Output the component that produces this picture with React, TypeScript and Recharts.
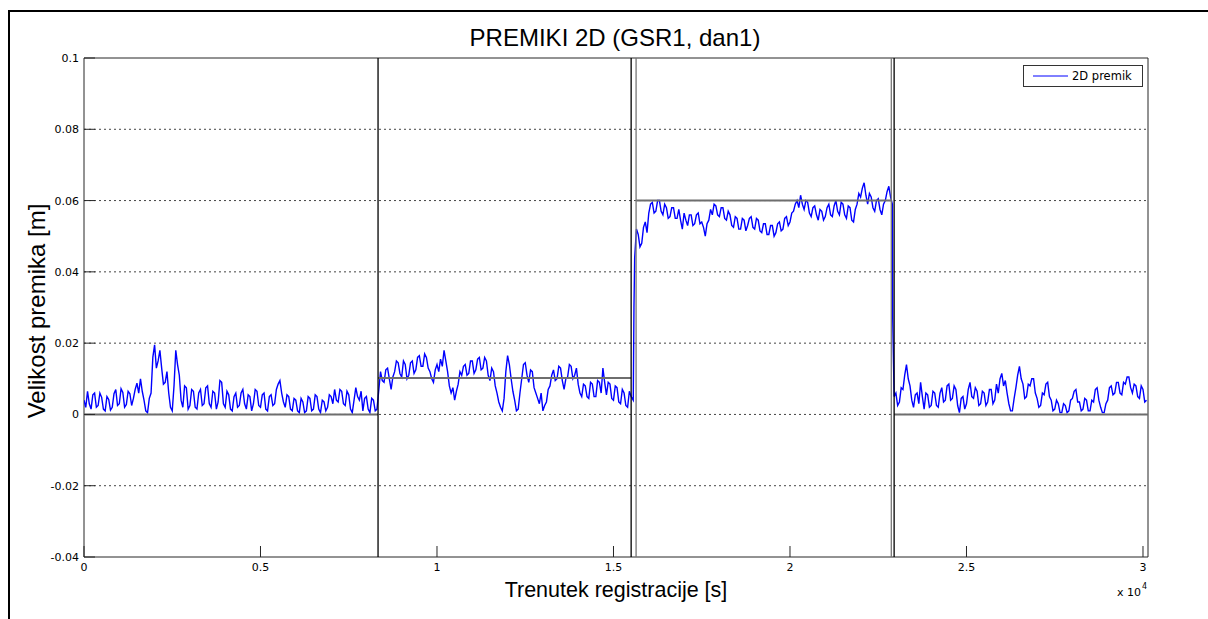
import React from 'react';
import { LineChart, Line, XAxis, YAxis, CartesianGrid, ReferenceLine, ReferenceArea } from 'recharts';

// vzorčenje [s]
const STEP = 50;

// 1. del meritve (0 - 8300 s)
const seg1Start = 0;
const seg1 = [
  0.0040, 0.0020, 0.0065, 0.0030, 0.0015, 0.0055, 0.0060, 0.0020, 0.0025, 0.0060,
  0.0048, 0.0015, 0.0010, 0.0050, 0.0042, 0.0012, 0.0020, 0.0058, 0.0070, 0.0025,
  0.0030, 0.0072, 0.0062, 0.0020, 0.0028, 0.0065, 0.0058, 0.0025, 0.0045, 0.0070,
  0.0088, 0.0060, 0.0100, 0.0065, 0.0040, 0.0010, 0.0005, 0.0045, 0.0060, 0.0160,
  0.0195, 0.0130, 0.0150, 0.0180, 0.0130, 0.0085, 0.0090, 0.0120, 0.0060, 0.0020,
  0.0010, 0.0080, 0.0180, 0.0140, 0.0110, 0.0040, 0.0020, 0.0080, 0.0075, 0.0015,
  0.0025, 0.0070, 0.0065, 0.0020, 0.0015, 0.0060, 0.0070, 0.0025, 0.0030, 0.0075,
  0.0080, 0.0030, 0.0020, 0.0065, 0.0060, 0.0015, 0.0035, 0.0095, 0.0090, 0.0030,
  0.0020, 0.0065, 0.0055, 0.0015, 0.0010, 0.0050, 0.0060, 0.0020, 0.0025, 0.0060,
  0.0070, 0.0030, 0.0015, 0.0055, 0.0050, 0.0010, 0.0030, 0.0070, 0.0065, 0.0025,
  0.0020, 0.0055, 0.0060, 0.0015, 0.0010, 0.0050, 0.0055, 0.0025, 0.0030, 0.0070,
  0.0085, 0.0095, 0.0060, 0.0035, 0.0020, 0.0055, 0.0050, 0.0015, 0.0010, 0.0045,
  0.0040, 0.0010, 0.0005, 0.0045, 0.0035, 0.0005, 0.0010, 0.0050, 0.0045, 0.0010,
  0.0015, 0.0055, 0.0050, 0.0015, 0.0005, 0.0040, 0.0035, 0.0010, 0.0020, 0.0055,
  0.0050, 0.0030, 0.0070, 0.0040, 0.0035, 0.0070, 0.0065, 0.0030, 0.0025, 0.0065,
  0.0055, 0.0015, 0.0005, 0.0040, 0.0075, 0.0050, 0.0040, 0.0065, 0.0010, 0.0045,
  0.0050, 0.0015, 0.0005, 0.0045, 0.0040, 0.0010, 0.0015,
];

// 2. del (8400 - 15500 s)
const seg2Start = 8400;
const seg2 = [
  0.0120, 0.0095, 0.0090, 0.0125, 0.0130, 0.0100, 0.0070, 0.0105, 0.0120, 0.0150,
  0.0145, 0.0115, 0.0105, 0.0150, 0.0140, 0.0100, 0.0110, 0.0145, 0.0150, 0.0115,
  0.0125, 0.0160, 0.0165, 0.0135, 0.0135, 0.0170, 0.0160, 0.0130, 0.0120, 0.0100,
  0.0090, 0.0125, 0.0140, 0.0120, 0.0155, 0.0135, 0.0180, 0.0150, 0.0120, 0.0080,
  0.0060, 0.0075, 0.0040, 0.0065, 0.0085, 0.0120, 0.0110, 0.0135, 0.0140, 0.0110,
  0.0115, 0.0150, 0.0150, 0.0115, 0.0125, 0.0155, 0.0160, 0.0125, 0.0130, 0.0160,
  0.0150, 0.0110, 0.0095, 0.0130, 0.0120, 0.0080, 0.0060, 0.0035, 0.0020, 0.0010,
  0.0045, 0.0120, 0.0165, 0.0140, 0.0100, 0.0065, 0.0040, 0.0010, 0.0015, 0.0060,
  0.0100, 0.0140, 0.0145, 0.0110, 0.0090, 0.0125, 0.0120, 0.0075, 0.0060, 0.0045,
  0.0030, 0.0060, 0.0010, 0.0025, 0.0035, 0.0070, 0.0080, 0.0110, 0.0125, 0.0095,
  0.0100, 0.0135, 0.0130, 0.0095, 0.0070, 0.0100, 0.0105, 0.0140, 0.0135, 0.0100,
  0.0110, 0.0130, 0.0085, 0.0060, 0.0050, 0.0085, 0.0080, 0.0050, 0.0045, 0.0090,
  0.0085, 0.0050, 0.0050, 0.0095, 0.0090, 0.0060, 0.0130, 0.0090, 0.0055, 0.0090,
  0.0085, 0.0045, 0.0040, 0.0080, 0.0075, 0.0035, 0.0030, 0.0070, 0.0060, 0.0025,
  0.0020, 0.0065, 0.0050,
];

// 3. del (15600 - 22900 s)
const seg3Start = 15600;
const seg3 = [
  0.0440, 0.0520, 0.0505, 0.0470, 0.0480, 0.0525, 0.0540, 0.0510, 0.0565, 0.0590,
  0.0595, 0.0565, 0.0570, 0.0600, 0.0600, 0.0570, 0.0560, 0.0590, 0.0580, 0.0550,
  0.0555, 0.0580, 0.0580, 0.0550, 0.0550, 0.0575, 0.0545, 0.0520, 0.0565, 0.0545,
  0.0530, 0.0560, 0.0560, 0.0530, 0.0535, 0.0560, 0.0565, 0.0535, 0.0540, 0.0525,
  0.0500, 0.0535, 0.0545, 0.0575, 0.0560, 0.0590, 0.0585, 0.0560, 0.0555, 0.0580,
  0.0580, 0.0550, 0.0545, 0.0570, 0.0560, 0.0530, 0.0525, 0.0555, 0.0550, 0.0520,
  0.0520, 0.0550, 0.0545, 0.0515, 0.0530, 0.0550, 0.0555, 0.0525, 0.0520, 0.0550,
  0.0545, 0.0515, 0.0510, 0.0535, 0.0535, 0.0505, 0.0505, 0.0530, 0.0530, 0.0500,
  0.0510, 0.0535, 0.0540, 0.0515, 0.0520, 0.0550, 0.0555, 0.0530, 0.0540, 0.0565,
  0.0570, 0.0590, 0.0600, 0.0580, 0.0615, 0.0590, 0.0575, 0.0600, 0.0595, 0.0565,
  0.0555, 0.0580, 0.0585, 0.0560, 0.0545, 0.0575, 0.0570, 0.0545, 0.0555, 0.0580,
  0.0590, 0.0560, 0.0555, 0.0585, 0.0600, 0.0570, 0.0560, 0.0595, 0.0590, 0.0560,
  0.0550, 0.0585, 0.0580, 0.0545, 0.0540, 0.0575, 0.0590, 0.0620, 0.0610, 0.0635,
  0.0650, 0.0615, 0.0590, 0.0620, 0.0610, 0.0580, 0.0570, 0.0600, 0.0605, 0.0575,
  0.0560, 0.0590, 0.0600, 0.0625, 0.0640, 0.0610, 0.0590,
];

// 4. del (23000 - 30100 s)
const seg4Start = 23000;
const seg4 = [
  0.0060, 0.0025, 0.0035, 0.0075, 0.0070, 0.0110, 0.0140, 0.0100, 0.0080, 0.0040,
  0.0020, 0.0055, 0.0060, 0.0030, 0.0090, 0.0050, 0.0015, 0.0060, 0.0055, 0.0020,
  0.0025, 0.0065, 0.0060, 0.0025, 0.0020, 0.0060, 0.0075, 0.0035, 0.0040, 0.0080,
  0.0085, 0.0040, 0.0045, 0.0080, 0.0070, 0.0025, 0.0005, 0.0045, 0.0050, 0.0015,
  0.0030, 0.0070, 0.0090, 0.0050, 0.0045, 0.0075, 0.0065, 0.0025, 0.0030, 0.0065,
  0.0060, 0.0025, 0.0035, 0.0070, 0.0070, 0.0030, 0.0040, 0.0085, 0.0060, 0.0100,
  0.0115, 0.0080, 0.0095, 0.0060, 0.0030, 0.0010, 0.0010, 0.0045, 0.0075, 0.0110,
  0.0135, 0.0100, 0.0085, 0.0045, 0.0050, 0.0085, 0.0080, 0.0100, 0.0100, 0.0060,
  0.0045, 0.0020, 0.0025, 0.0060, 0.0055, 0.0085, 0.0090, 0.0050, 0.0040, 0.0010,
  0.0015, 0.0040, 0.0030, 0.0005, 0.0005, 0.0030, 0.0025, 0.0005, 0.0010, 0.0040,
  0.0045, 0.0065, 0.0070, 0.0035, 0.0035, 0.0010, 0.0015, 0.0045, 0.0040, 0.0010,
  0.0010, 0.0040, 0.0035, 0.0070, 0.0075, 0.0040, 0.0020, 0.0005, 0.0005, 0.0030,
  0.0040, 0.0075, 0.0080, 0.0055, 0.0060, 0.0090, 0.0090, 0.0060, 0.0055, 0.0090,
  0.0085, 0.0105, 0.0105, 0.0075, 0.0060, 0.0085, 0.0080, 0.0050, 0.0045, 0.0080,
  0.0070, 0.0035, 0.0040,
];

// skoki med deli
const jumpTimes = [15560, 15580, 22910, 22950];
const jumpValues = [0.004, 0.03, 0.027, 0.005];

// navpične meje
const breakTimes = [8330, 15500, 15640, 22870, 22950];
const breakColors = ['#000000', '#000000', '#777777', '#777777', '#000000'];

// povprečja po delih
const levelFrom = [0, 8330, 15640, 22950];
const levelTo = [8330, 15500, 22870, 30142];
const levelValues = [0, 0.0102, 0.06, 0];

const X_MAX = 30142;
const Y_MIN = -0.04;
const Y_MAX = 0.1;
const xTicks = [0, 5000, 10000, 15000, 20000, 25000, 30000];
const xTickLabels = ['0', '0.5', '1', '1.5', '2', '2.5', '3'];
const yTicks = [-0.04, -0.02, 0, 0.02, 0.04, 0.06, 0.08, 0.1];
const yTickLabels = ['-0.04', '-0.02', '0', '0.02', '0.04', '0.06', '0.08', '0.1'];
const gridValues = [-0.02, 0, 0.02, 0.04, 0.06, 0.08];

const toPoints = (start: number, vals: number[]) =>
  vals.map((v, i) => ({ t: start + i * STEP, v }));

const data = [
  ...toPoints(seg1Start, seg1),
  ...toPoints(seg2Start, seg2),
  ...toPoints(seg3Start, seg3),
  ...toPoints(seg4Start, seg4),
  ...jumpTimes.map((t, i) => ({ t, v: jumpValues[i] })),
].sort((a, b) => a.t - b.t);

const SMALL_FONT = "'DejaVu Sans', Arial, sans-serif";
const BIG_FONT = "'Liberation Sans', Arial, sans-serif";
const TICK = 11;
const AXIS_COLOR = '#262626';

const BottomTick = (props: any) => {
  const { x, y, payload } = props;
  const label = xTickLabels[xTicks.indexOf(payload.value)];
  return (
    <g>
      <line x1={x} y1={y} x2={x} y2={y - TICK} stroke={AXIS_COLOR} />
      <text x={x} y={y + 14} textAnchor="middle" fontSize={11} fontFamily={SMALL_FONT} fill="#000">
        {label}
      </text>
    </g>
  );
};

const TopTick = (props: any) => {
  const { x, y } = props;
  return <line x1={x} y1={y} x2={x} y2={y + TICK} stroke={AXIS_COLOR} />;
};

const LeftTick = (props: any) => {
  const { x, y, payload } = props;
  const label = yTickLabels[yTicks.indexOf(payload.value)];
  return (
    <g>
      <line x1={x} y1={y} x2={x + TICK} y2={y} stroke={AXIS_COLOR} />
      <text x={x - 5} y={y + 4} textAnchor="end" fontSize={11} fontFamily={SMALL_FONT} fill="#000">
        {label}
      </text>
    </g>
  );
};

const RightTick = (props: any) => {
  const { x, y } = props;
  return <line x1={x} y1={y} x2={x - TICK} y2={y} stroke={AXIS_COLOR} />;
};

export default function App() {
  return (
    <div style={{ position: 'absolute', left: 0, top: 0, width: 1208, height: 619, background: '#fff', overflow: 'hidden' }}>
      {/* okvir posnetka */}
      <div style={{ position: 'absolute', left: 8, top: 10, width: 1200, height: 2, background: '#000' }} />
      <div style={{ position: 'absolute', left: 8, top: 10, width: 2, height: 609, background: '#000' }} />

      <LineChart width={1208} height={619} data={data} margin={{ top: 58, right: 60, bottom: 0, left: 0 }}>
        <CartesianGrid
          horizontal
          vertical={false}
          horizontalValues={gridValues}
          stroke="#444"
          strokeDasharray="2 3"
        />
        <XAxis
          dataKey="t"
          type="number"
          domain={[0, X_MAX]}
          ticks={xTicks}
          allowDataOverflow
          height={62}
          tickSize={0}
          tickMargin={0}
          tickLine={false}
          axisLine={false}
          tick={<BottomTick />}
          interval={0}
        />
        <XAxis
          xAxisId="top"
          orientation="top"
          dataKey="t"
          type="number"
          domain={[0, X_MAX]}
          ticks={xTicks}
          allowDataOverflow
          height={0}
          tickSize={0}
          tickMargin={0}
          tickLine={false}
          axisLine={false}
          tick={<TopTick />}
          interval={0}
        />
        <YAxis
          type="number"
          domain={[Y_MIN, Y_MAX]}
          ticks={yTicks}
          allowDataOverflow
          width={84}
          tickSize={0}
          tickMargin={0}
          tickLine={false}
          axisLine={false}
          tick={<LeftTick />}
          interval={0}
        />
        <YAxis
          yAxisId="right"
          orientation="right"
          type="number"
          domain={[Y_MIN, Y_MAX]}
          ticks={yTicks}
          allowDataOverflow
          width={0}
          tickSize={0}
          tickMargin={0}
          tickLine={false}
          axisLine={false}
          tick={<RightTick />}
          interval={0}
        />
        <Line
          type="linear"
          dataKey="v"
          stroke="#0000ff"
          strokeWidth={1.4}
          dot={false}
          isAnimationActive={false}
        />
        {levelValues.map((lv, i) => (
          <ReferenceLine
            key={`lvl-${i}`}
            segment={[{ x: levelFrom[i], y: lv }, { x: levelTo[i], y: lv }]}
            stroke="#6e6e6e"
            strokeWidth={2}
            ifOverflow="hidden"
          />
        ))}
        {breakTimes.map((bt, i) => (
          <ReferenceLine key={`brk-${i}`} x={bt} stroke={breakColors[i]} strokeWidth={1.3} />
        ))}
        {/* okvir osi */}
        <ReferenceArea
          x1={0}
          x2={X_MAX}
          y1={Y_MIN}
          y2={Y_MAX}
          fill="none"
          stroke={AXIS_COLOR}
          strokeWidth={1}
        />
      </LineChart>

      {/* napisi */}
      <svg width={1208} height={619} style={{ position: 'absolute', left: 0, top: 0, pointerEvents: 'none' }}>
        <text x={615} y={46} textAnchor="middle" fontSize={24} fontFamily={BIG_FONT} fill="#000">
          PREMIKI 2D (GSR1, dan1)
        </text>
        <text x={616} y={597} textAnchor="middle" fontSize={21.5} fontFamily={BIG_FONT} fill="#000">
          Trenutek registracije [s]
        </text>
        <text transform="translate(45, 311) rotate(-90)" textAnchor="middle" fontSize={24} fontFamily={BIG_FONT} fill="#000">
          Velikost premika [m]
        </text>
        <text x={1117} y={596} fontSize={11} fontFamily={SMALL_FONT} fill="#000">
          x 10
        </text>
        <text x={1142} y={589} fontSize={8} fontFamily={SMALL_FONT} fill="#000">
          4
        </text>
      </svg>

      {/* legenda */}
      <div
        style={{
          position: 'absolute',
          left: 1023,
          top: 65,
          width: 118,
          height: 20,
          border: '1px solid #333',
          background: '#fff',
          display: 'flex',
          alignItems: 'center',
          fontFamily: SMALL_FONT,
          fontSize: 11.5,
        }}
      >
        <svg width={48} height={20}>
          <line x1={9} y1={10} x2={44} y2={10} stroke="#0000ff" strokeWidth={1} />
        </svg>
        <span>2D premik</span>
      </div>
    </div>
  );
}
